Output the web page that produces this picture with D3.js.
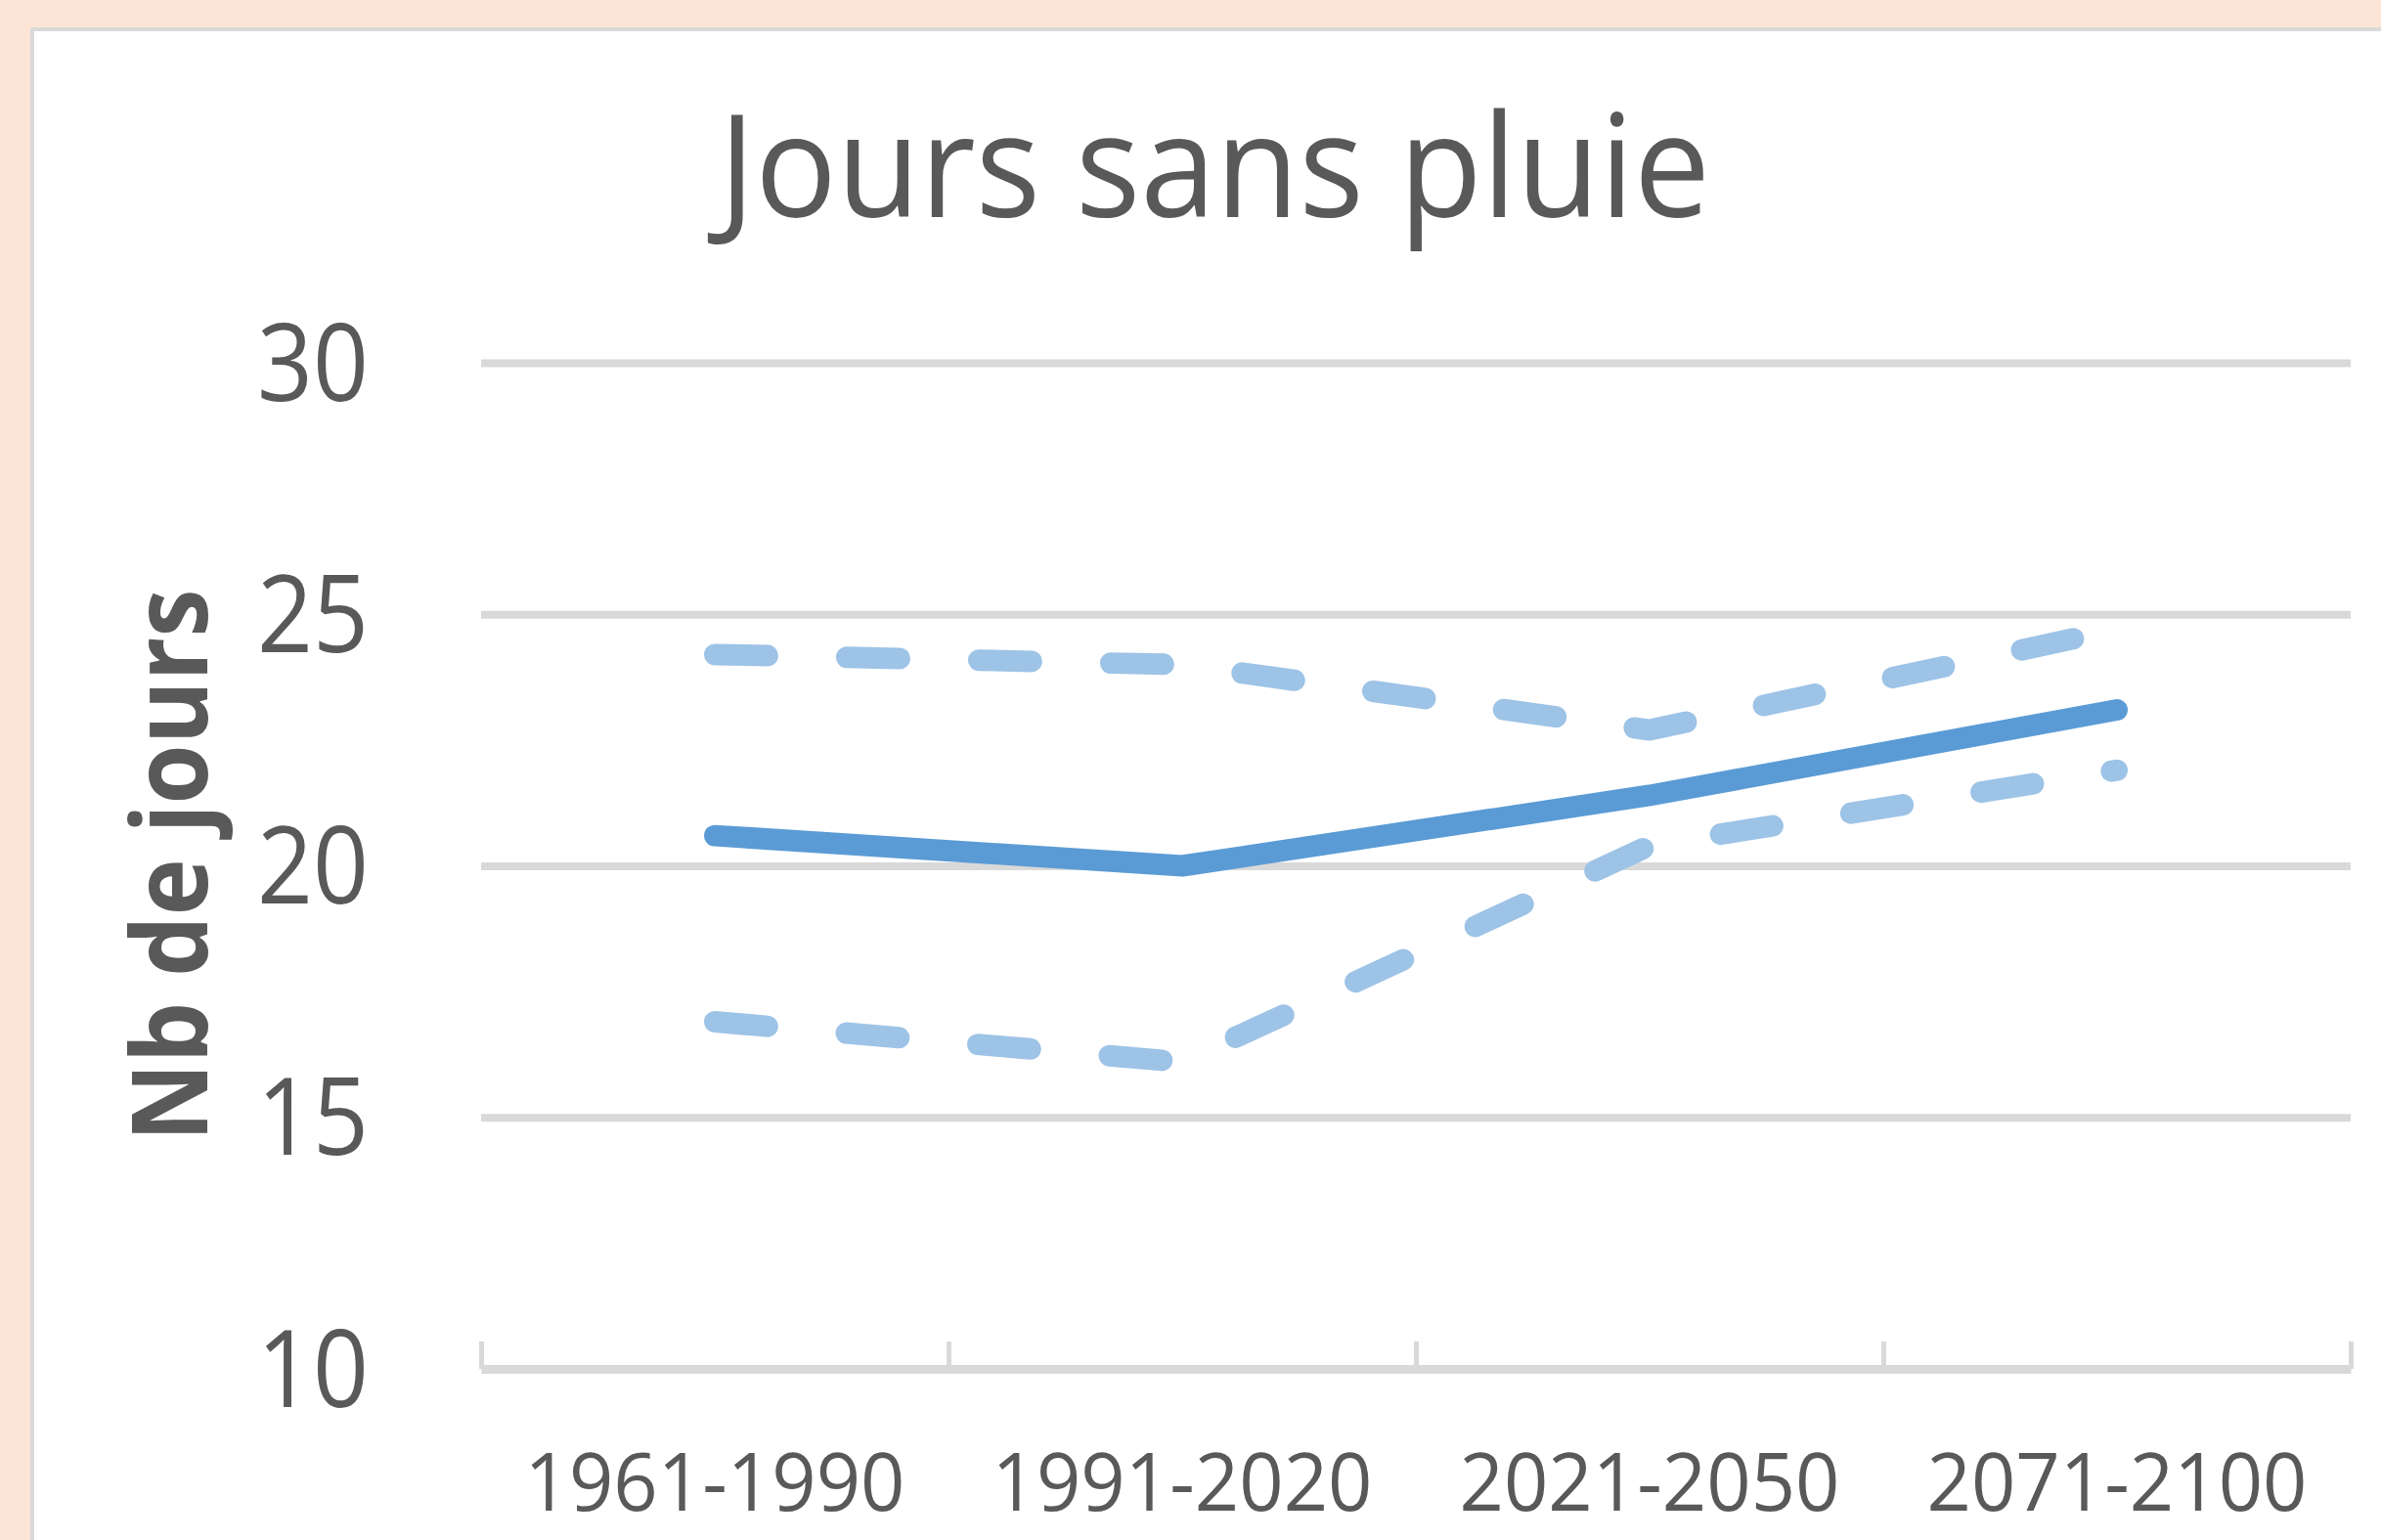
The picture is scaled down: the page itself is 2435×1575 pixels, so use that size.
<!DOCTYPE html>
<html>
<head>
<meta charset="utf-8">
<script src="https://cdn.jsdelivr.net/npm/d3@7"></script>
<style>
  body { margin: 0; background: #fce4d6; }
  svg { display: block; }
</style>
</head>
<body>
<div id="canvas"></div>
<script>
// data
const periods = ['1961-1990', '1991-2020', '2021-2050', '2071-2100'];
const median = [20.6, 20.0, 21.4, 23.1];
const upper = [24.2, 24.0, 22.7, 24.7];
const lower = [16.9, 16.1, 20.4, 21.9];
const yTicks = [10, 15, 20, 25, 30];

const width = 2435;
const height = 1575;
const margin = { top: 371, bottom: 175, left: 492, right: 31 };
const font = '"Open Sans", "Noto Sans", sans-serif';
const textColor = '#595959';

const svg = d3.select('#canvas').append('svg')
    .attr('width', width)
    .attr('height', height)
    .attr('viewBox', [0, 0, width, height]);

// peach background + white chart card
svg.append('rect')
    .attr('width', width).attr('height', height)
    .attr('fill', '#fce4d6');
svg.append('rect')
    .attr('x', 33).attr('y', 30)
    .attr('width', width + 100).attr('height', height + 100)
    .attr('fill', '#ffffff')
    .attr('stroke', '#d9d9d9')
    .attr('stroke-width', 4);

const x = d3.scaleBand()
    .domain(periods)
    .range([margin.left, width - margin.right])
    .padding(0);

const y = d3.scaleLinear()
    .domain([10, 30])
    .range([height - margin.bottom, margin.top]);

// horizontal grid lines + y labels
const yAxis = svg.append('g')
    .attr('id', 'y-axis')
    .attr('transform', `translate(${margin.left},0)`)
    .call(d3.axisLeft(y)
        .tickValues(yTicks)
        .tickSize(-(width - margin.right - margin.left))
        .tickPadding(115));

yAxis.select('.domain').remove();
yAxis.selectAll('.tick line')
    .attr('stroke', '#d9d9d9')
    .attr('stroke-width', 8)
    .attr('display', d => d === 10 ? 'none' : null);
yAxis.selectAll('.tick text')
    .attr('fill', textColor)
    .attr('font-family', font)
    .attr('font-size', 109)
    .attr('dy', 38)
    .attr('textLength', 114)
    .attr('lengthAdjust', 'spacingAndGlyphs');

// x axis line with category boundary ticks
const xEdge = d3.scaleLinear()
    .domain([0, periods.length])
    .range(x.range());

const xAxisLine = svg.append('g')
    .attr('id', 'x-axis-line')
    .attr('transform', `translate(0,${y(10)})`)
    .call(d3.axisBottom(xEdge)
        .tickValues(d3.range(periods.length + 1))
        .tickSize(-28)
        .tickSizeOuter(0)
        .tickFormat(''));

xAxisLine.select('.domain')
    .attr('stroke', '#d9d9d9')
    .attr('stroke-width', 9);
xAxisLine.selectAll('.tick line')
    .attr('stroke', '#d9d9d9')
    .attr('stroke-width', 5);

// x labels
const xAxis = svg.append('g')
    .attr('id', 'x-axis')
    .attr('transform', `translate(0,${y(10)})`)
    .call(d3.axisBottom(x).tickSize(0));

xAxis.select('.domain').remove();
xAxis.selectAll('.tick text')
    .attr('fill', textColor)
    .attr('font-family', font)
    .attr('font-size', 83)
    .attr('y', 145)
    .attr('dy', 0)
    .attr('textLength', 389)
    .attr('lengthAdjust', 'spacingAndGlyphs');

// lines
const line = d3.line()
    .x((d, i) => x(periods[i]) + x.bandwidth() / 2)
    .y(d => y(d));

const dataRegion = svg.append('g').attr('id', 'data');

[upper, lower].forEach(series => {
    dataRegion.append('path')
        .datum(series)
        .attr('d', line)
        .attr('fill', 'none')
        .attr('stroke', '#9dc3e6')
        .attr('stroke-width', 22)
        .attr('stroke-linecap', 'round')
        .attr('stroke-linejoin', 'round')
        .attr('stroke-dasharray', '54,81');
});

dataRegion.append('path')
    .datum(median)
    .attr('d', line)
    .attr('fill', 'none')
    .attr('stroke', '#5b9bd5')
    .attr('stroke-width', 22)
    .attr('stroke-linecap', 'round')
    .attr('stroke-linejoin', 'round');

// title
svg.append('text')
    .attr('x', 1242)
    .attr('y', 222)
    .attr('text-anchor', 'middle')
    .attr('fill', textColor)
    .attr('font-family', font)
    .attr('font-size', 146)
    .attr('textLength', 1014)
    .attr('lengthAdjust', 'spacingAndGlyphs')
    .text('Jours sans pluie');

// y axis title
svg.append('text')
    .attr('transform', `translate(212,885) rotate(-90)`)
    .attr('text-anchor', 'middle')
    .attr('fill', textColor)
    .attr('font-family', font)
    .attr('font-weight', 'bold')
    .attr('font-size', 107)
    .attr('textLength', 565)
    .attr('lengthAdjust', 'spacingAndGlyphs')
    .text('Nb de jours');
</script>
</body>
</html>
